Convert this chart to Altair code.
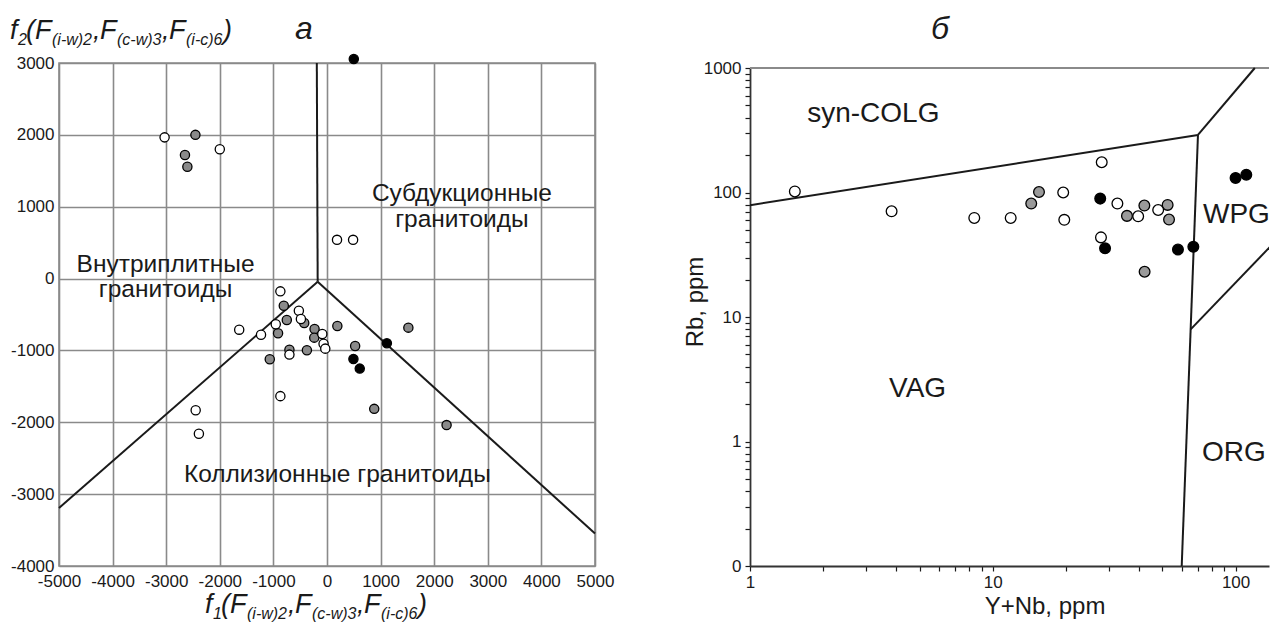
import altair as alt
import pandas as pd

FONT = "Liberation Sans"
INK = "#1a1a1a"
GRID = "#8a8a8a"

# ---------------- panel a : f1 / f2 discriminant diagram ----------------
a_white_x = [-3030, -2000, 187, 487, -870, -525, -487, -956, -1638, -1231, -88, -64, -32, -701, -870, -2450, -2390]
a_white_y = [1965, 1800, 539, 539, -178, -447, -563, -636, -711, -781, -771, -906, -975, -1058, -1636, -1833, -2160]
a_gray_x = [-2455, -2650, -2605, -806, -425, -750, -913, -232, -238, 193, -701, -375, -1068, 525, 1518, 881, 2231]
a_gray_y = [2000, 1720, 1555, -378, -618, -576, -761, -701, -822, -660, -989, -997, -1122, -938, -683, -1813, -2039]
a_black_x = [500, 493, 611, 1117]
a_black_y = [3055, -1118, -1253, -900]

a_line_seg = [1, 1, 2, 2, 3, 3]
a_line_x = [-190, -174, -174, -5000, -174, 5000]
a_line_y = [3000, -45, -45, -3192, -45, -3549]

a_xticks = [-5000, -4000, -3000, -2000, -1000, 0, 1000, 2000, 3000, 4000, 5000]
a_yticks = [-4000, -3000, -2000, -1000, 0, 1000, 2000, 3000]

a_labels = ["Внутриплитные", "гранитоиды", "Субдукционные", "гранитоиды", "Коллизионные гранитоиды"]
a_label_x = [-3012, -3012, 2517, 2517, 193]
a_label_y = [90, -257, 1080, 715, -2826]

# ---------------- panel б : Rb vs Y+Nb (Pearce) ----------------
b_white_x = [1.53, 3.83, 8.39, 11.85, 19.5, 19.7, 28.1, 27.9, 32.6, 39.7, 48.0]
b_white_y = [102, 70.6, 62.5, 62.5, 100, 60.3, 175, 43.6, 81.5, 64.4, 72.4]
b_gray_x = [14.4, 15.5, 35.7, 42.1, 52.5, 53.2, 42.2]
b_gray_y = [81.5, 101, 64.9, 78.5, 79.5, 60.6, 23.1]
b_black_x = [27.7, 29.0, 57.9, 67.0, 100, 110.7]
b_black_y = [89.3, 35.6, 34.8, 36.6, 131, 139]

b_line_seg = [1, 1, 2, 2, 3, 3, 4, 4]
b_line_x = [1, 70, 70, 120, 60, 70, 65.3, 200]
b_line_y = [79, 290, 290, 1000, 0.1, 290, 7.95, 77]

b_labels = ["syn-COLG", "VAG", "ORG", "WPG"]
b_label_x = [1.72, 3.74, 72.7, 73.4]
b_label_y = [370, 2.26, 0.697, 57.3]

b_xticks = [1, 2, 3, 4, 5, 6, 7, 8, 9, 10, 20, 30, 40, 50, 60, 70, 80, 90, 100]
b_yticks = [0.1, 0.2, 0.3, 0.4, 0.5, 0.6, 0.7, 0.8, 0.9,
            1, 2, 3, 4, 5, 6, 7, 8, 9,
            10, 20, 30, 40, 50, 60, 70, 80, 90,
            100, 200, 300, 400, 500, 600, 700, 800, 900, 1000]

# ---------------- layout ----------------
W1, H1 = 536, 503
W2, H2 = 519, 503
TOP2 = 5          # right panel frame starts a little lower
XMAX = 137.3


def txt(s, x, y, size, italic=False, align="left", baseline="alphabetic", angle=0):
    kw = dict(text=s, fontSize=size, font=FONT, fontStyle="italic" if italic else "normal",
              align=align, baseline=baseline, color=INK)
    if angle:
        kw["angle"] = angle
    return alt.Chart().mark_text(**kw).encode(x=alt.value(x), y=alt.value(y))


def f_title(prefix_sub, x0, y0):
    # pieces: (text, dx, is_sub)
    pieces = [("f", 0, False), (prefix_sub, 8, True), ("(F", 16, False),
              ("(i-w)2", 42, True), (",", 83, False), ("F", 90, False), ("(c-w)3", 107, True),
              (",", 152, False), ("F", 159, False), ("(i-c)6", 176, True), (")", 213, False)]
    out = []
    for t, dx, sub in pieces:
        if sub:
            out.append(txt(t, x0 + dx, y0 + 6, 16, italic=True))
        else:
            out.append(txt(t, x0 + dx, y0, 27, italic=True))
    return out


# invisible anchor that fixes the top-left corner of the whole figure
anchor = alt.Chart().mark_rule(strokeOpacity=0).encode(
    x=alt.value(-50), x2=alt.value(-40), y=alt.value(-54))

# ---- panel a ----
xs1 = alt.Scale(domain=[-5000, 5000], nice=False, zero=False)
ys1 = alt.Scale(domain=[-4000, 3000], nice=False, zero=False)
xa1 = alt.Axis(values=a_xticks, labelExpr="toString(datum.value)", grid=True, gridColor=GRID,
               gridWidth=1.6, ticks=False, domain=False, labelFont=FONT, labelFontSize=17,
               labelColor=INK, labelPadding=7, labelFlush=False, labelOverlap=False, title=None)
ya1 = alt.Axis(values=a_yticks, labelExpr="toString(datum.value)", grid=True, gridColor=GRID,
               gridWidth=1.6, ticks=False, domain=False, labelFont=FONT, labelFontSize=17,
               labelColor=INK, labelPadding=5, labelFlush=False, labelOverlap=False, title=None)


def pts_a(xv, yv, fill):
    df = pd.DataFrame({"x": xv, "y": yv})
    return alt.Chart(df).mark_circle(size=85, fill=fill, stroke="black", strokeWidth=1.3, opacity=1).encode(
        x=alt.X("x:Q", scale=xs1, axis=xa1), y=alt.Y("y:Q", scale=ys1, axis=ya1))


a_lines = alt.Chart(pd.DataFrame({"seg": a_line_seg, "x": a_line_x, "y": a_line_y,
                                  "i": list(range(len(a_line_x)))})).mark_line(
    color=INK, strokeWidth=2).encode(
    x=alt.X("x:Q", scale=xs1, axis=xa1), y=alt.Y("y:Q", scale=ys1, axis=ya1),
    detail="seg:N", order="i:Q")

a_text = alt.Chart(pd.DataFrame({"t": a_labels, "x": a_label_x, "y": a_label_y})).mark_text(
    font=FONT, fontSize=24.5, color=INK, align="center", baseline="alphabetic").encode(
    x=alt.X("x:Q", scale=xs1, axis=xa1), y=alt.Y("y:Q", scale=ys1, axis=ya1), text="t:N")

left_layers = [anchor, a_lines, pts_a(a_gray_x, a_gray_y, "#8a8a8a"), pts_a(a_white_x, a_white_y, "white"),
               pts_a(a_black_x, a_black_y, "black"), a_text,
               txt("a", 245, -24, 32, italic=True, align="center")]
left_layers += f_title("2", -49, -24)
left_layers += f_title("1", 146, 550)

left = alt.layer(*left_layers).properties(
    width=W1, height=H1, view=alt.ViewBackground(stroke=GRID, strokeWidth=1.6))

# ---- panel б ----
xs2 = alt.Scale(type="log", domain=[1, XMAX], nice=False)
ys2 = alt.Scale(type="log", domain=[0.1, 1000], nice=False, range=[H2, TOP2])
xa2 = alt.Axis(values=b_xticks, labelExpr="indexof([1,10,100], datum.value) >= 0 ? format(datum.value, 'd') : ''",
               grid=False, tickSize=5, tickColor=INK, tickWidth=1.2, domainColor="#333", domainWidth=1.8,
               labelFont=FONT, labelFontSize=17, labelColor=INK, labelPadding=3, labelFlush=False,
               labelOverlap=False, title=None)
ya2 = alt.Axis(values=b_yticks,
               labelExpr="datum.value < 0.15 ? '0' : (indexof([1,10,100,1000], datum.value) >= 0 ? format(datum.value, 'd') : '')",
               grid=False, tickSize=5, tickColor=INK, tickWidth=1.2, domainColor="#333", domainWidth=1.8,
               labelFont=FONT, labelFontSize=17, labelColor=INK, labelPadding=4, labelFlush=False,
               labelOverlap=False, title=None)


def pts_b(xv, yv, fill):
    df = pd.DataFrame({"x": xv, "y": yv})
    return alt.Chart(df).mark_circle(size=115, fill=fill, stroke="black", strokeWidth=1.3, opacity=1).encode(
        x=alt.X("x:Q", scale=xs2, axis=xa2), y=alt.Y("y:Q", scale=ys2, axis=ya2))


b_lines = alt.Chart(pd.DataFrame({"seg": b_line_seg, "x": b_line_x, "y": b_line_y,
                                  "i": list(range(len(b_line_x)))})).mark_line(
    color=INK, strokeWidth=2, clip=True).encode(
    x=alt.X("x:Q", scale=xs2, axis=xa2), y=alt.Y("y:Q", scale=ys2, axis=ya2),
    detail="seg:N", order="i:Q")

b_text = alt.Chart(pd.DataFrame({"t": b_labels, "x": b_label_x, "y": b_label_y})).mark_text(
    font=FONT, fontSize=28, color=INK, align="left", baseline="alphabetic").encode(
    x=alt.X("x:Q", scale=xs2, axis=xa2), y=alt.Y("y:Q", scale=ys2, axis=ya2), text="t:N")

top_border = alt.Chart().mark_rule(color="#8a8a8a", strokeWidth=2).encode(
    x=alt.value(0), x2=alt.value(W2), y=alt.value(TOP2))

right = alt.layer(
    top_border, b_lines,
    pts_b(b_gray_x, b_gray_y, "#9a9a9a"), pts_b(b_white_x, b_white_y, "white"),
    pts_b(b_black_x, b_black_y, "black"), b_text,
    txt("б", 190, -24, 32, italic=True, align="center"),
    txt("Y+Nb, ppm", 295, 551, 24, align="center"),
    txt("Rb, ppm", -54, 239, 24, align="center", baseline="middle", angle=270),
).properties(width=W2, height=H2)

chart = alt.hconcat(left, right, spacing=155, bounds="flush").configure_view(stroke=None).properties(
    padding={"left": 0, "top": 0, "right": 0, "bottom": 0})

chart.save("out.html", embed_options={"renderer": "svg", "actions": False})
